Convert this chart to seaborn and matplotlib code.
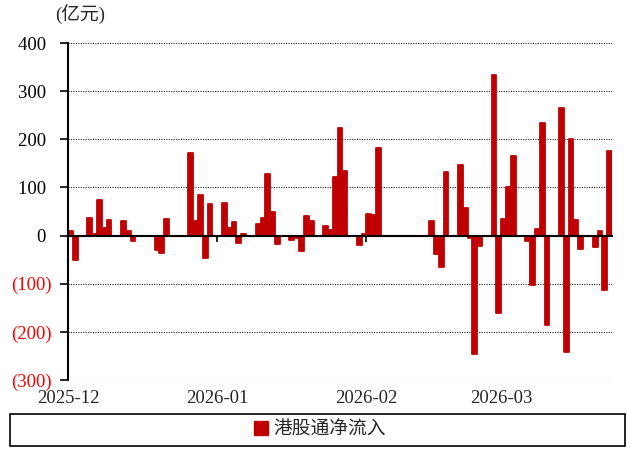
import numpy as np
import pandas as pd
import matplotlib
matplotlib.use("Agg")
import matplotlib.pyplot as plt
import seaborn as sns
from matplotlib.patches import Patch, Rectangle

# ---------------- data ----------------
dates = [
    "2025-12-04", "2025-12-05",
    "2025-12-08", "2025-12-09", "2025-12-10", "2025-12-11", "2025-12-12",
    "2025-12-15", "2025-12-16", "2025-12-17",
    "2025-12-22", "2025-12-23", "2025-12-24",
    "2025-12-29", "2025-12-30", "2025-12-31", "2026-01-01", "2026-01-02",
    "2026-01-05", "2026-01-06", "2026-01-07", "2026-01-08", "2026-01-09",
    "2026-01-12", "2026-01-13", "2026-01-14", "2026-01-15", "2026-01-16",
    "2026-01-19", "2026-01-20", "2026-01-21", "2026-01-22", "2026-01-23",
    "2026-01-26", "2026-01-27", "2026-01-28", "2026-01-29", "2026-01-30",
    "2026-02-02", "2026-02-03", "2026-02-04", "2026-02-05", "2026-02-06",
    "2026-02-17", "2026-02-18", "2026-02-19", "2026-02-20",
    "2026-02-23", "2026-02-24", "2026-02-25", "2026-02-26", "2026-02-27",
    "2026-03-02", "2026-03-03", "2026-03-04", "2026-03-05", "2026-03-06",
    "2026-03-09", "2026-03-10", "2026-03-11", "2026-03-12", "2026-03-13",
    "2026-03-16", "2026-03-17", "2026-03-18", "2026-03-19", "2026-03-20",
    "2026-03-23", "2026-03-24", "2026-03-25", "2026-03-26",
]
flows = [
    10, -50,
    36, 3, 74, 16, 33,
    31, 9, -12,
    -31, -36, 34,
    171, 30, 85, -46, 65,
    68, 16, 29, -16, 3,
    23, 36, 128, 50, -17,
    -10, -6, -33, 41, 31,
    19, 12, 121, 224, 134,
    -19, 3, 45, 43, 181,
    30, -38, -65, 133,
    146, 57, -5, -246, -22,
    333, -160, 34, 101, 165,
    -12, -103, 14, 234, -186,
    266, -241, 200, 32, -27,
    -24, 9, -113, 176,
]
series_name = "港股通净流入"
unit_label = "(亿元)"
month_tick_dates = ["2025-12-04", "2026-01-04", "2026-02-04", "2026-03-04"]
month_tick_labels = ["2025-12", "2026-01", "2026-02", "2026-03"]
y_ticks = [-300, -200, -100, 0, 100, 200, 300, 400]

BAR = "#C00000"
FS = 13.5

# ---------------- style ----------------
sns.set_style("ticks")
plt.rcParams["font.family"] = ["Liberation Serif", "Noto Sans CJK SC"]
plt.rcParams["axes.unicode_minus"] = False

d = pd.to_datetime(dates)
start = d[0]
df = pd.DataFrame({"day": (d - start).days, "flow": flows})
last_day = df["day"].max()

fig = plt.figure(figsize=(6.27, 4.5), dpi=100)
ax = fig.add_axes([68 / 627, 1 - 380 / 450, (612 - 68) / 627, (380 - 43) / 450])

sns.barplot(data=df, x="day", y="flow", native_scale=True, width=1.0,
            color=BAR, saturation=1, errorbar=None, linewidth=1.3,
            edgecolor=BAR, ax=ax)
for p in ax.patches:
    p.set_joinstyle("round")

ax.set_xlim(-0.5, last_day + 0.5)
ax.set_ylim(-300, 400)
ax.set_xlabel("")
ax.set_ylabel("")

# y axis
ax.set_yticks(y_ticks)
ylabels = [f"{v} " if v >= 0 else f"({-v})" for v in y_ticks]
ax.set_yticklabels(ylabels)
ax.tick_params(axis="y", direction="out", length=6, width=1.2, pad=6,
               labelsize=FS, left=True, colors="black")
for t, v in zip(ax.get_yticklabels(), y_ticks):
    t.set_color("black" if v >= 0 else "#FF0000")

ax.set_axisbelow(True)
ax.grid(axis="y", linestyle=(0, (1, 1.2)), color="#222222", linewidth=0.8)
ax.grid(axis="x", visible=False)

# spines
for s in ["top", "right"]:
    ax.spines[s].set_visible(False)
ax.spines["left"].set_linewidth(1.5)
ax.spines["left"].set_color("black")
ax.spines["bottom"].set_position(("data", 0))
ax.spines["bottom"].set_linewidth(1.5)
ax.spines["bottom"].set_color("black")
ax.spines["bottom"].set_zorder(5)

tick_pos = list((pd.to_datetime(month_tick_dates) - start).days - 0.5)
ax.set_xticks(tick_pos)
ax.tick_params(axis="x", direction="out", length=4, width=1.2, colors="black",
               labelbottom=False, bottom=True)

sec = ax.secondary_xaxis(0.0)
sec.set_xticks(tick_pos, labels=month_tick_labels)
sec.tick_params(axis="x", length=0, pad=7, labelsize=FS)
sec.spines["bottom"].set_visible(False)

# unit label
fig.text(55 / 627, 1 - 14 / 450, unit_label, ha="left", va="center", fontsize=FS)

# legend
fig.legend(handles=[Patch(facecolor=BAR, edgecolor=BAR, label=series_name)],
           loc="center", bbox_to_anchor=(0.51, 1 - 430 / 450), frameon=False,
           fontsize=FS, handlelength=0.75, handleheight=0.75, handletextpad=0.25)
fig.patches.append(Rectangle((10 / 627, 1 - 446 / 450), 615 / 627, 32 / 450,
                             transform=fig.transFigure, fill=False,
                             edgecolor="black", linewidth=1.2))

fig.savefig("out.png", dpi=100)
